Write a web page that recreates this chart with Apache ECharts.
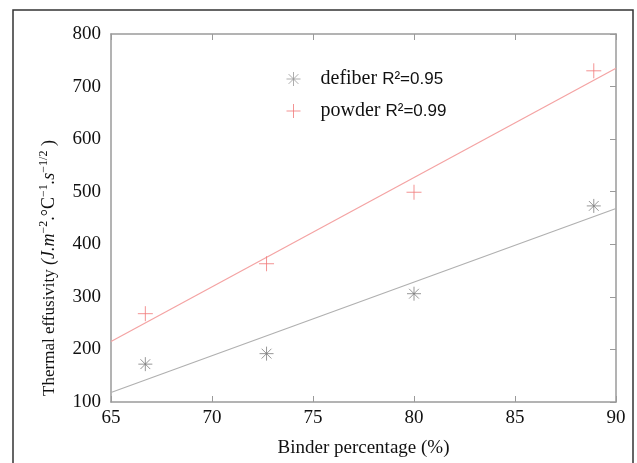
<!DOCTYPE html>
<html>
<head>
<meta charset="utf-8">
<script src="https://cdn.jsdelivr.net/npm/echarts@6/dist/echarts.min.js"></script>
<style>
  html, body { margin: 0; padding: 0; background: #fff; }
  #chart { width: 637px; height: 463px; }
</style>
</head>
<body>
<div id="chart"></div>
<script>
// measured points (binder %, effusivity)
const defiberX = [66.7, 72.7, 80.0, 88.9];
const defiberY = [172, 192, 306, 473];
const powderX = [66.7, 72.7, 80.0, 88.9];
const powderY = [268, 363, 499, 730];

// linear fit end points
const fitX = [65, 90];
const defiberFit = [118, 468];
const powderFit = [215, 735];

const r2 = { defiber: 0.95, powder: 0.99 };

const xTicks = [65, 70, 75, 80, 85, 90];
const yTicks = [100, 200, 300, 400, 500, 600, 700, 800];

const SERIF = '"Liberation Serif", "DejaVu Serif", serif';
const SANS = '"Liberation Sans", Arial, sans-serif';

const GREY = '#7d7d7d';
const GREY_LINE = '#b0b0b0';
const PINK = '#f07878';
const PINK_LINE = '#f4a3a3';

const STAR = 'path://M0,5L10,5M5,0L5,10M1.5,1.5L8.5,8.5M1.5,8.5L8.5,1.5';
const PLUS = 'path://M0,5L10,5M5,0L5,10';

function pairs(xs, ys) {
  return xs.map((x, i) => [x, ys[i]]);
}

const chart = echarts.init(document.getElementById('chart'), null, { renderer: 'canvas' });

const frameAxis = {
  axisLine: { show: true, lineStyle: { color: '#9a9a9a', width: 1.5 } },
  axisTick: { show: true, inside: true, length: 6, lineStyle: { color: '#9a9a9a' } },
  axisLabel: { show: false },
  splitLine: { show: false }
};

const option = {
  backgroundColor: '#fff',
  animation: false,
  grid: { left: 111, right: 21, top: 34, bottom: 61, containLabel: false },
  legend: {
    orient: 'vertical',
    left: 281,
    top: 64,
    itemWidth: 14,
    itemHeight: 14,
    itemGap: 12,
    selectedMode: false,
    data: [
      { name: 'defiber', icon: STAR, itemStyle: { color: '#999', borderColor: '#999', borderWidth: 1 } },
      { name: 'powder', icon: PLUS, itemStyle: { color: PINK, borderColor: PINK, borderWidth: 1 } }
    ],
    formatter: name => '{n|' + name + ' }{r|R²=' + r2[name].toFixed(2) + '}',
    textStyle: {
      padding: [0, 0, 0, 15],
      rich: {
        n: { fontFamily: SERIF, fontSize: 20, color: '#111' },
        r: { fontFamily: SANS, fontSize: 17, color: '#111' }
      }
    }
  },
  xAxis: [
    {
      type: 'value',
      min: 65,
      max: 90,
      interval: 5,
      name: 'Binder percentage (%)',
      nameLocation: 'middle',
      nameGap: 37,
      nameTextStyle: { fontFamily: SERIF, fontSize: 19, color: '#111' },
      axisLine: { show: true, lineStyle: { color: '#9a9a9a', width: 1.5 } },
      axisTick: { show: true, inside: true, length: 6, lineStyle: { color: '#9a9a9a' } },
      axisLabel: {
        fontFamily: SERIF, fontSize: 19, color: '#111', margin: 7,
        formatter: v => (xTicks.includes(v) ? String(v) : '')
      },
      splitLine: { show: false }
    },
    Object.assign({ type: 'value', position: 'top', min: 65, max: 90, interval: 5 }, frameAxis)
  ],
  yAxis: [
    {
      type: 'value',
      min: 100,
      max: 800,
      interval: 100,
      name: '{t|Thermal effusivity }{m|(J.m}{s|−2}{u|.°C}{s|−1}{m|.s}{s|−1/2}{u| )}',
      nameLocation: 'middle',
      nameGap: 53,
      nameTextStyle: {
        padding: [0, 100, 0, 0],
        rich: {
          t: { fontFamily: SERIF, fontSize: 17, color: '#111', lineHeight: 20, verticalAlign: 'bottom' },
          m: { fontFamily: SERIF, fontStyle: 'italic', fontSize: 18, color: '#111', lineHeight: 20, verticalAlign: 'bottom' },
          u: { fontFamily: SERIF, fontSize: 18, color: '#111', lineHeight: 20, verticalAlign: 'bottom' },
          s: { fontFamily: SERIF, fontSize: 12, color: '#111', lineHeight: 12, verticalAlign: 'top' }
        }
      },
      axisLine: { show: true, lineStyle: { color: '#9a9a9a', width: 1.5 } },
      axisTick: { show: false },
      axisLabel: {
        fontFamily: SERIF, fontSize: 19, color: '#111', margin: 10,
        formatter: v => (yTicks.includes(v) ? String(v) : '')
      },
      splitLine: { show: false }
    },
    Object.assign({ type: 'value', position: 'right', min: 100, max: 800, interval: 100 }, frameAxis)
  ],
  series: [
    {
      name: 'defiber fit',
      type: 'line',
      data: pairs(fitX, defiberFit),
      showSymbol: false,
      lineStyle: { color: GREY_LINE, width: 1.2 },
      z: 2
    },
    {
      name: 'powder fit',
      type: 'line',
      data: pairs(fitX, powderFit),
      showSymbol: false,
      lineStyle: { color: PINK_LINE, width: 1.2 },
      z: 2
    },
    {
      name: 'defiber',
      type: 'scatter',
      data: pairs(defiberX, defiberY),
      symbol: STAR,
      symbolSize: 14,
      itemStyle: { color: GREY, borderColor: GREY, borderWidth: 1 },
      z: 3
    },
    {
      name: 'powder',
      type: 'scatter',
      data: pairs(powderX, powderY),
      symbol: PLUS,
      symbolSize: 15,
      itemStyle: { color: PINK, borderColor: PINK, borderWidth: 1 },
      z: 3
    }
  ],
  graphic: [
    {
      type: 'rect',
      shape: { x: 13, y: 10, width: 620, height: 470 },
      style: { fill: 'none', stroke: '#333', lineWidth: 1.5 },
      silent: true
    }
  ]
};

chart.setOption(option);
</script>
</body>
</html>
